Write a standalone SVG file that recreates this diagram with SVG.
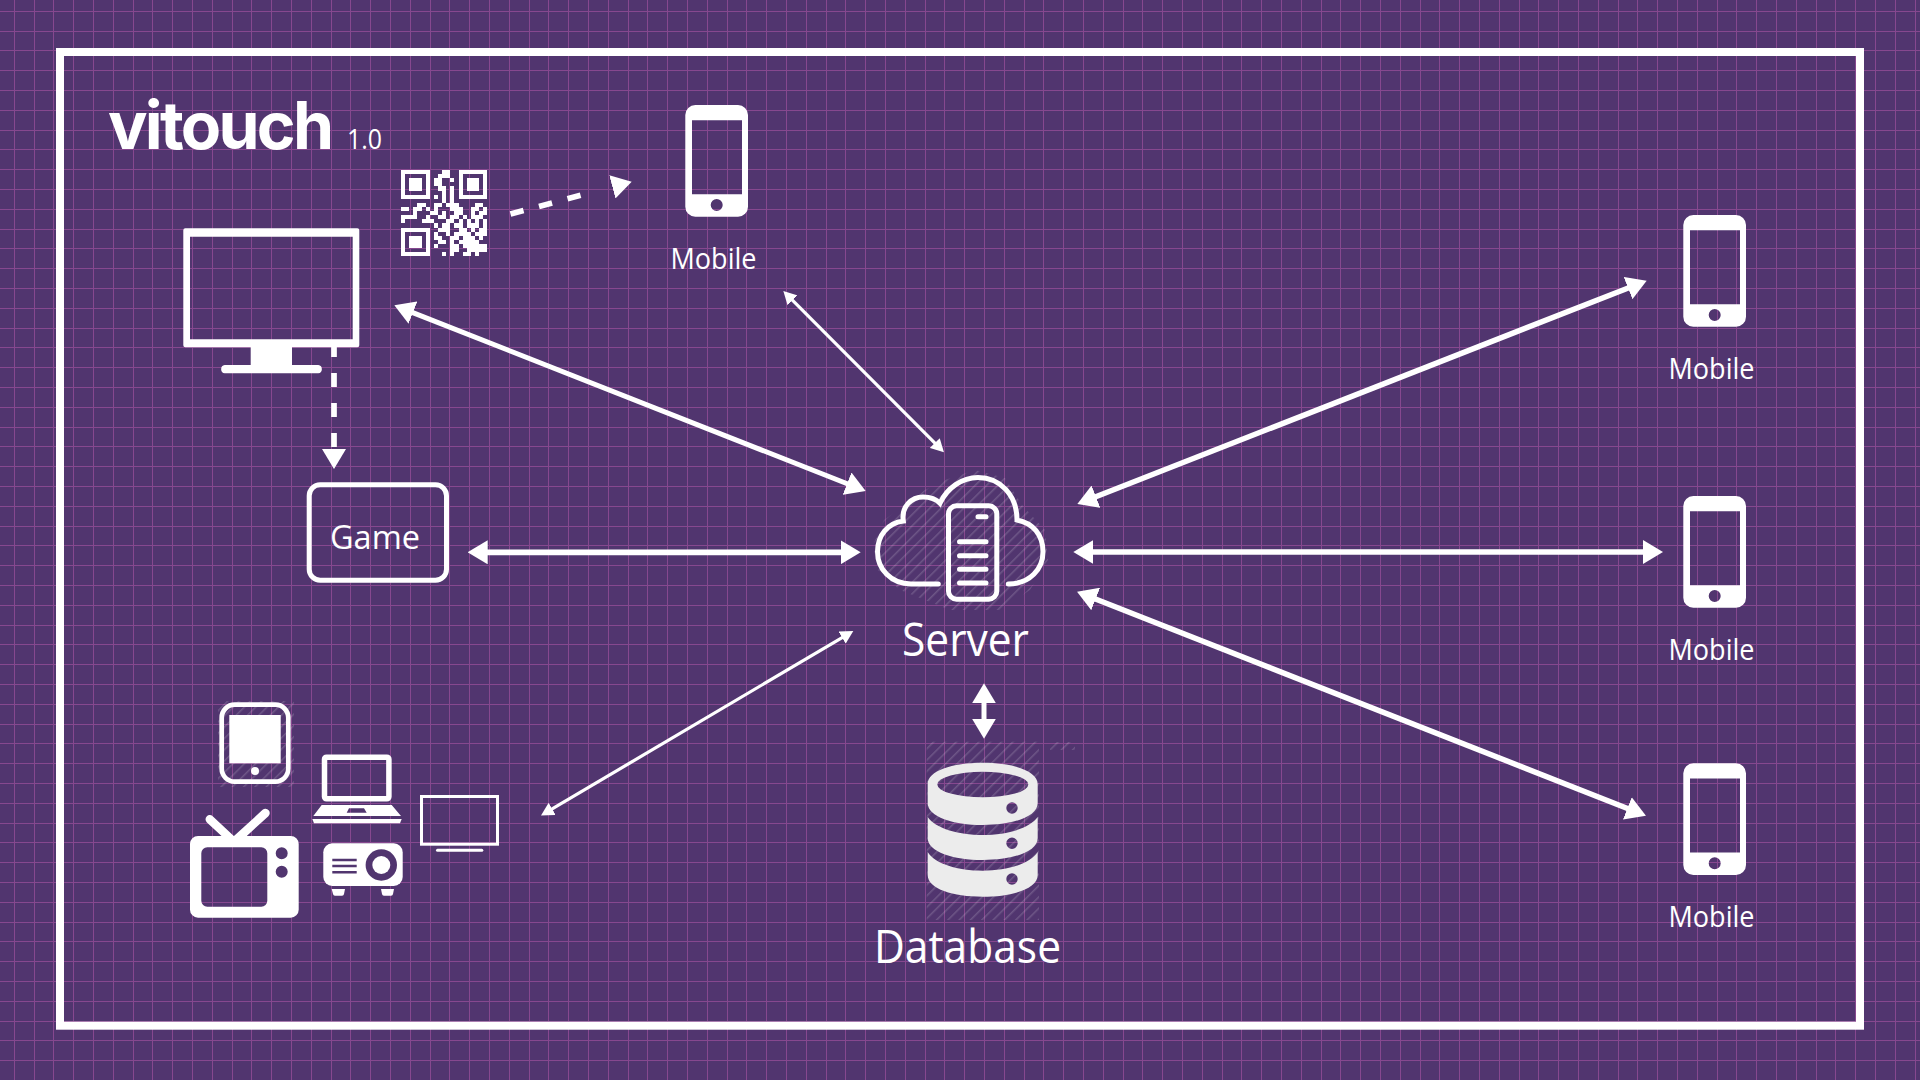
<svg xmlns="http://www.w3.org/2000/svg" xmlns:xlink="http://www.w3.org/1999/xlink" width="1920" height="1080" viewBox="0 0 1920 1080">
<style>
text{font-family:"Open Sans","Noto Sans","Liberation Sans",sans-serif;fill:#fff}
.w{fill:#fff}
.bg{fill:#51356f}
.o{fill:none;stroke:#fff}
.c{fill:none;stroke:#fff;stroke-width:5.7}
.t{fill:none;stroke:#fff;stroke-width:3.2}
.h{fill:url(#hatch)}
</style>
<defs>
<pattern id="hatch" patternUnits="userSpaceOnUse" width="8" height="8" patternTransform="rotate(45)"><rect width="1.5" height="8" fill="#fff" fill-opacity=".17"/></pattern>
<marker id="big" markerUnits="userSpaceOnUse" viewBox="0 0 20 24" refX="5" refY="12" markerWidth="20" markerHeight="24" orient="auto-start-reverse"><path d="M0 0L20 12L0 24Z" fill="#fff"/></marker>
<marker id="small" markerUnits="userSpaceOnUse" viewBox="0 0 13 14" refX="3" refY="7" markerWidth="13" markerHeight="14" orient="auto-start-reverse"><path d="M0 0L13 7L0 14Z" fill="#fff"/></marker>
<path id="phone" fill-rule="evenodd" fill="#fff" d="M10 0H52.7A10 10 0 0 1 62.7 10V101.7A10 10 0 0 1 52.7 111.7H10A10 10 0 0 1 0 101.7V10A10 10 0 0 1 10 0ZM6.7 15.3V89.3H56.7V15.3ZM25.4 100A6 6 0 1 0 37.4 100A6 6 0 1 0 25.4 100Z"/>
</defs>
<rect width="1920" height="1080" class="bg"/>
<g id="grid" fill="none" stroke="#86488f" stroke-width="1" shape-rendering="crispEdges">
<path d="M14.3 0V1080M34.1 0V1080M53.9 0V1080M73.7 0V1080M93.5 0V1080M113.3 0V1080M133.1 0V1080M152.9 0V1080M172.7 0V1080M192.5 0V1080M212.3 0V1080M232.1 0V1080M251.9 0V1080M271.7 0V1080M291.5 0V1080M311.3 0V1080M331.1 0V1080M350.9 0V1080M370.7 0V1080M390.5 0V1080M410.3 0V1080M430.1 0V1080M449.9 0V1080M469.7 0V1080M489.5 0V1080M509.3 0V1080M529.1 0V1080M548.9 0V1080M568.7 0V1080M588.5 0V1080M608.3 0V1080M628.1 0V1080M647.9 0V1080M667.7 0V1080M687.5 0V1080M707.3 0V1080M727.1 0V1080M746.9 0V1080M766.7 0V1080M786.5 0V1080M806.3 0V1080M826.1 0V1080M845.9 0V1080M865.7 0V1080M885.5 0V1080M905.3 0V1080M925.1 0V1080M944.9 0V1080M964.7 0V1080M984.5 0V1080M1004.3 0V1080M1024.1 0V1080M1043.9 0V1080M1063.7 0V1080M1083.5 0V1080M1103.3 0V1080M1123.1 0V1080M1142.9 0V1080M1162.7 0V1080M1182.5 0V1080M1202.3 0V1080M1222.1 0V1080M1241.9 0V1080M1261.7 0V1080M1281.5 0V1080M1301.3 0V1080M1321.1 0V1080M1340.9 0V1080M1360.7 0V1080M1380.5 0V1080M1400.3 0V1080M1420.1 0V1080M1439.9 0V1080M1459.7 0V1080M1479.5 0V1080M1499.3 0V1080M1519.1 0V1080M1538.9 0V1080M1558.7 0V1080M1578.5 0V1080M1598.3 0V1080M1618.1 0V1080M1637.9 0V1080M1657.7 0V1080M1677.5 0V1080M1697.3 0V1080M1717.1 0V1080M1736.9 0V1080M1756.7 0V1080M1776.5 0V1080M1796.3 0V1080M1816.1 0V1080M1835.9 0V1080M1855.7 0V1080M1875.5 0V1080M1895.3 0V1080M1915.1 0V1080"/>
<path d="M0 11.3H1920M0 31.1H1920M0 50.9H1920M0 70.7H1920M0 90.5H1920M0 110.3H1920M0 130.1H1920M0 149.9H1920M0 169.7H1920M0 189.5H1920M0 209.3H1920M0 229.1H1920M0 248.9H1920M0 268.7H1920M0 288.5H1920M0 308.3H1920M0 328.1H1920M0 347.9H1920M0 367.7H1920M0 387.5H1920M0 407.3H1920M0 427.1H1920M0 446.9H1920M0 466.7H1920M0 486.5H1920M0 506.3H1920M0 526.1H1920M0 545.9H1920M0 565.7H1920M0 585.5H1920M0 605.3H1920M0 625.1H1920M0 644.9H1920M0 664.7H1920M0 684.5H1920M0 704.3H1920M0 724.1H1920M0 743.9H1920M0 763.7H1920M0 783.5H1920M0 803.3H1920M0 823.1H1920M0 842.9H1920M0 862.7H1920M0 882.5H1920M0 902.3H1920M0 922.1H1920M0 941.9H1920M0 961.7H1920M0 981.5H1920M0 1001.3H1920M0 1021.1H1920M0 1040.9H1920M0 1060.7H1920"/>
</g>
<rect id="frame" x="60" y="52" width="1800" height="973.7" fill="none" stroke="#fff" stroke-width="8"/>

<g id="logo">
<text x="108" y="148.7" font-size="66" font-weight="700" style="font-family:Inter,'Open Sans',sans-serif" textLength="226" lengthAdjust="spacing">vitouch</text>
<text x="347" y="148.7" font-size="27" textLength="35" lengthAdjust="spacingAndGlyphs">1.0</text>
</g>

<g id="monitor">
<path class="w" fill-rule="evenodd" d="M185.3 228.3H357.3Q359.3 228.3 359.3 230.3V345.3Q359.3 347.3 357.3 347.3H292V365H318.3A4.2 4.2 0 0 1 318.3 373.3H224.7A4.2 4.2 0 0 1 224.7 365H250.7V347.3H185.3Q183.3 347.3 183.3 345.3V230.3Q183.3 228.3 185.3 228.3ZM190 236.7V339.3H352.7V236.7Z"/>
</g>

<g id="qr" transform="translate(401 170) scale(4.11)" class="w" shape-rendering="crispEdges">
<path d="M0 0h7v1h-7zM10 0h2v1h-2zM14 0h7v1h-7zM0 1h1v1h-1zM6 1h1v1h-1zM9 1h3v1h-3zM14 1h1v1h-1zM20 1h1v1h-1zM0 2h1v1h-1zM2 2h3v3h-3zM6 2h1v1h-1zM8 2h2v1h-2zM12 2h1v1h-1zM14 2h1v1h-1zM16 2h3v3h-3zM20 2h1v1h-1zM0 3h1v1h-1zM6 3h1v1h-1zM8 3h2v1h-2zM14 3h1v1h-1zM20 3h1v1h-1zM0 4h1v1h-1zM6 4h1v1h-1zM9 4h2v1h-2zM12 4h1v1h-1zM14 4h1v1h-1zM20 4h1v1h-1zM0 5h1v1h-1zM6 5h1v1h-1zM10 5h1v1h-1zM12 5h1v1h-1zM14 5h1v1h-1zM20 5h1v1h-1zM0 6h7v1h-7zM8 6h1v1h-1zM10 6h1v1h-1zM12 6h1v1h-1zM14 6h7v1h-7zM10 7h1v1h-1zM12 7h1v1h-1z"/>
<path d="M4 8h2v1h-2zM8 8h2v1h-2zM11 8h3v1h-3zM18 8h2v1h-2zM0 9h2v1h-2zM3 9h2v1h-2zM6 9h1v1h-1zM8 9h1v1h-1zM12 9h3v1h-3zM17 9h2v1h-2zM20 9h1v1h-1zM3 10h1v1h-1zM7 10h2v1h-2zM10 10h1v1h-1zM13 10h2v1h-2zM17 10h1v1h-1zM19 10h2v1h-2zM0 11h4v1h-4zM6 11h1v1h-1zM9 11h2v1h-2zM12 11h2v1h-2zM15 11h1v1h-1zM17 11h3v1h-3zM0 12h1v1h-1zM5 12h3v1h-3zM11 12h2v1h-2zM14 12h1v1h-1zM16 12h1v1h-1zM18 12h1v1h-1zM20 12h1v1h-1zM8 13h1v1h-1zM10 13h2v1h-2zM13 13h2v1h-2zM16 13h3v1h-3zM20 13h1v1h-1z"/>
<path d="M0 14h7v1h-7zM9 14h3v1h-3zM14 14h2v1h-2zM17 14h1v1h-1zM19 14h2v1h-2zM0 15h1v1h-1zM6 15h1v1h-1zM8 15h1v1h-1zM11 15h1v1h-1zM13 15h4v1h-4zM18 15h3v1h-3zM0 16h1v1h-1zM2 16h3v3h-3zM6 16h1v1h-1zM8 16h2v1h-2zM12 16h2v1h-2zM15 16h3v1h-3zM19 16h1v1h-1zM0 17h1v1h-1zM6 17h1v1h-1zM9 17h2v1h-2zM12 17h1v1h-1zM14 17h5v1h-5zM0 18h1v1h-1zM6 18h1v1h-1zM8 18h1v1h-1zM12 18h2v1h-2zM15 18h6v1h-6zM0 19h1v1h-1zM6 19h1v1h-1zM12 19h2v1h-2zM16 19h5v1h-5zM0 20h7v1h-7zM10 20h1v1h-1zM12 20h1v1h-1zM15 20h2v1h-2zM18 20h1v1h-1z"/>
</g>

<g id="mobile-top"><use xlink:href="#phone" href="#phone" x="685.3" y="105"/><text x="670.5" y="269" font-size="28.5" textLength="86" lengthAdjust="spacingAndGlyphs">Mobile</text></g>
<g id="mobile-1"><use xlink:href="#phone" href="#phone" x="1683.3" y="215"/><text x="1668.5" y="379" font-size="28.5" textLength="86" lengthAdjust="spacingAndGlyphs">Mobile</text></g>
<g id="mobile-2"><use xlink:href="#phone" href="#phone" x="1683.3" y="496"/><text x="1668.5" y="660" font-size="28.5" textLength="86" lengthAdjust="spacingAndGlyphs">Mobile</text></g>
<g id="mobile-3"><use xlink:href="#phone" href="#phone" x="1683.3" y="763.3"/><text x="1668.5" y="927" font-size="28.5" textLength="86" lengthAdjust="spacingAndGlyphs">Mobile</text></g>

<g id="game">
<rect x="309.2" y="484.8" width="137.3" height="95.4" rx="11" class="o" stroke-width="5"/>
<text x="330" y="549.3" font-size="33" textLength="90" lengthAdjust="spacingAndGlyphs">Game</text>
</g>

<g id="server">
<path class="h" d="M884 520L905 505L925 490L945 480L975 470L1005 478L1022 505L1045 530L1048 560L1030 590L1000 610L950 610L900 590L878 570L873 545Z"/>
<path class="o" stroke-width="5" stroke-linecap="round" d="M938.3 584H911C891 584 877.5 569 877.5 551.7C877.5 535 888 523 903.3 521C901 506 912 497 923 497C930 497 936 499 940 503.3C947 488 962 477.5 978 477.5C1000 477.5 1017 495 1017 520C1033 523 1043 535 1043 551.7C1043 569 1030 584 1008.3 584"/>
<rect x="948.5" y="505.8" width="48.3" height="93.4" rx="8" class="o" stroke-width="5"/>
<path class="o" stroke-width="5" stroke-linecap="round" d="M978 516.7H986M959.5 541.7H986M959.5 555.7H986M959.5 569.3H986M959.5 583H986"/>
<text x="902" y="656" font-size="45" textLength="127" lengthAdjust="spacingAndGlyphs">Server</text>
</g>

<g id="database">
<rect x="926.7" y="741.7" width="112.3" height="178.3" class="h"/>
<path class="h" d="M1050 742H1075V750H1050Z"/>
<path fill="#ececec" fill-rule="evenodd" d="M927.7 784C927.7 771 952 762.7 982.7 762.7S1037.7 771 1037.7 784V803C1037.7 817 1012 825 982.7 825S927.7 817 927.7 803ZM937.3 784.5A45.5 12.8 0 1 0 1028.3 784.5A45.5 12.8 0 1 0 937.3 784.5ZM1006.3 808A5.7 5.7 0 1 0 1017.7 808A5.7 5.7 0 1 0 1006.3 808Z"/>
<path fill="#ececec" fill-rule="evenodd" d="M927.7 817C935 828 958 835 982.7 835S1030 828 1037.7 817V838C1037.7 852 1012 860 982.7 860S927.7 852 927.7 838ZM1006.3 843.3A5.7 5.7 0 1 0 1017.7 843.3A5.7 5.7 0 1 0 1006.3 843.3Z"/>
<path fill="#ececec" fill-rule="evenodd" d="M927.7 852C935 864 958 870.7 982.7 870.7S1030 864 1037.7 852V875C1037.7 889 1012 896.7 982.7 896.7S927.7 889 927.7 875ZM1006.3 879A5.7 5.7 0 1 0 1017.7 879A5.7 5.7 0 1 0 1006.3 879Z"/>
<text x="874" y="963.3" font-size="45" textLength="187" lengthAdjust="spacingAndGlyphs">Database</text>
</g>

<g id="tablet">
<rect x="218" y="701" width="76" height="86" class="h"/>
<rect x="221.7" y="704.7" width="66.6" height="76.9" rx="13" class="o" stroke-width="4.7"/>
<rect x="229.3" y="715" width="51.4" height="48.3" class="w"/>
<circle cx="255" cy="771" r="4" class="w"/>
</g>

<g id="laptop">
<rect x="324.5" y="757.2" width="64.4" height="41.6" rx="2" class="o" stroke-width="5.5"/>
<path class="w" fill-rule="evenodd" d="M321.7 805H391.7L401 816H313.3ZM349 808.3L346.7 812.7H366.7L364 808.3Z"/>
<path class="w" d="M312.3 819H401.7L400 823.3H314Z"/>
</g>

<g id="display">
<rect x="421.5" y="796.5" width="76" height="47.7" class="o" stroke-width="3"/>
<rect x="436" y="848.7" width="47.3" height="3" rx="1.5" class="w"/>
</g>

<g id="tv">
<path class="o" stroke-width="8.5" stroke-linecap="round" d="M209.8 819.3L232 840M265.5 813L236 840"/>
<path class="w" fill-rule="evenodd" d="M198 836H290.7A8 8 0 0 1 298.7 844V909.7A8 8 0 0 1 290.7 917.7H198A8 8 0 0 1 190 909.7V844A8 8 0 0 1 198 836ZM207.3 847.3A6 6 0 0 0 201.3 853.3V900.7A6 6 0 0 0 207.3 906.7H261.3A6 6 0 0 0 267.3 900.7V853.3A6 6 0 0 0 261.3 847.3ZM275.7 853.3A6 6 0 1 0 287.7 853.3A6 6 0 1 0 275.7 853.3ZM275.7 871.7A6 6 0 1 0 287.7 871.7A6 6 0 1 0 275.7 871.7Z"/>
</g>

<g id="projector">
<rect x="323.3" y="843.3" width="79.4" height="42.7" rx="9" class="w"/>
<circle cx="381.3" cy="865" r="15.7" class="bg"/>
<circle cx="381.3" cy="865" r="9" class="w"/>
<path class="bg" d="M332.3 858.8H356.7V861.2H332.3ZM332.3 864.8H356.7V867.2H332.3ZM332.3 871H356.7V873.4H332.3Z"/>
<path class="w" d="M331.7 889H345L344 894A2 2 0 0 1 342 895.7H335A2 2 0 0 1 333 894ZM381 889H394L393 894A2 2 0 0 1 391 895.7H384A2 2 0 0 1 382 894Z"/>
</g>

<g id="connectors">
<path class="c" style="stroke-width:5" d="M408.3 310.8L851.7 485.5" marker-start="url(#big)" marker-end="url(#big)"/>
<path class="t" d="M790.4 298.1L936.9 445.2" marker-start="url(#small)" marker-end="url(#small)"/>
<path class="c" d="M482.7 552.3H845.7" marker-start="url(#big)" marker-end="url(#big)"/>
<path class="t" d="M549.6 810.4L844.7 636.1" marker-start="url(#small)" marker-end="url(#small)"/>
<path class="c" style="stroke-width:5.5" d="M1091.3 498.5L1632.7 286.2" marker-start="url(#big)" marker-end="url(#big)"/>
<path class="c" d="M1088.3 552H1648" marker-start="url(#big)" marker-end="url(#big)"/>
<path class="c" style="stroke-width:5.5" d="M1091 597.2L1632 810.2" marker-start="url(#big)" marker-end="url(#big)"/>
<path class="c" style="stroke-width:5" d="M984 698.3V723.7" marker-start="url(#big)" marker-end="url(#big)"/>
<path class="c" stroke-dasharray="14 16" d="M334 343V454" marker-end="url(#big)"/>
<path class="c" stroke-dasharray="13.5 16 13.5 16 13.5 60" d="M510.5 214L617.2 185.6" marker-end="url(#big)"/>
</g>
</svg>
